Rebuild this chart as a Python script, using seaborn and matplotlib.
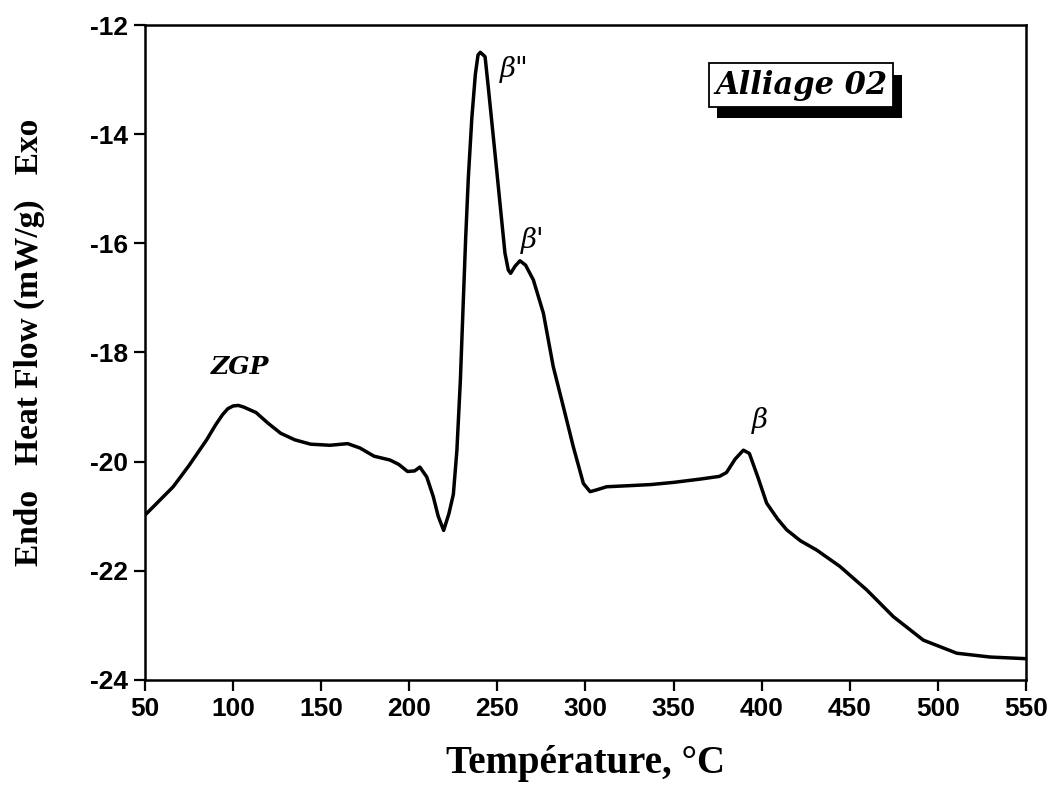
import numpy as np
import pandas as pd
import matplotlib
matplotlib.use("Agg")
import matplotlib.pyplot as plt
import matplotlib.patheffects as pe
import seaborn as sns

temperature = [50, 58, 66, 75, 85, 90, 94, 97, 100, 103, 106, 113, 120, 127, 135, 144, 155, 165,
               172, 180, 189, 194, 199, 203, 206, 209.9, 213.6, 216.4, 219.5, 222.5,
               225, 227, 229, 230.6, 232, 233.5, 235.5, 237.5, 239, 240.3, 243, 244.8,
               249.6, 252.4, 254.3, 256.2, 257.5, 260, 262.8, 266, 270.4, 276.1, 281.7,
               287.4, 293.1, 298.8, 302.6, 306, 312, 325, 337, 350, 365, 376, 380, 385,
               389.6, 393, 398, 402.8, 409, 414.2, 422, 431.2, 444.4, 459.6, 474.7,
               491.7, 510.7, 529.6, 550]
heat_flow = [-20.98, -20.72, -20.46, -20.07, -19.6, -19.33, -19.14, -19.03, -18.98, -18.97,
             -19.0, -19.1, -19.3, -19.48, -19.6, -19.68, -19.7, -19.67, -19.75, -19.9,
             -19.97, -20.05, -20.18, -20.17, -20.1, -20.28, -20.64, -21.0, -21.26, -20.95,
             -20.6, -19.8, -18.5, -17.1, -15.9, -14.8, -13.7, -12.9, -12.55, -12.5, -12.58,
             -13.13, -14.66, -15.57, -16.18, -16.49, -16.55, -16.42, -16.32, -16.4, -16.67,
             -17.28, -18.26, -18.99, -19.73, -20.4, -20.55, -20.52, -20.46, -20.44, -20.42,
             -20.38, -20.32, -20.27, -20.2, -19.95, -19.79, -19.85, -20.3, -20.76, -21.05,
             -21.25, -21.45, -21.62, -21.92, -22.35, -22.84, -23.27, -23.51, -23.58, -23.61]

x_ticks = [50, 100, 150, 200, 250, 300, 350, 400, 450, 500, 550]
y_ticks = [-24, -22, -20, -18, -16, -14, -12]

peak_labels = ["ZGP", "\u03b2\"", "\u03b2'", "\u03b2"]
peak_x = [103.9, 251.5, 270.2, 399.0]
peak_y = [-18.27, -12.82, -15.94, -19.24]

sns.set_theme(style="white")
plt.rcParams['font.family'] = ['Liberation Sans', 'DejaVu Sans']
plt.rcParams['text.color'] = 'black'
plt.rcParams['axes.labelcolor'] = 'black'
plt.rcParams['xtick.color'] = 'black'
plt.rcParams['ytick.color'] = 'black'

df = pd.DataFrame({"T": temperature, "HF": heat_flow})

fig = plt.figure(figsize=(10.56, 7.89), dpi=100)
ax = fig.add_axes([0.1373, 0.1382, 0.9716 - 0.1373, 0.9683 - 0.1382])
sns.lineplot(data=df, x="T", y="HF", ax=ax, color="black", linewidth=2.5, sort=False)

ax.set_xlim(50, 550)
ax.set_ylim(-24, -12)
ax.set_xticks(x_ticks)
ax.set_yticks(y_ticks)
ax.set_xticklabels([str(v) for v in x_ticks], fontsize=19, fontweight="bold")
ax.set_yticklabels([str(v) for v in y_ticks], fontsize=19, fontweight="bold")
ax.tick_params(axis="both", direction="out", length=8, width=1.6, color="black",
               labelcolor="black", bottom=True, left=True, pad=4)
for s in ax.spines.values():
    s.set_visible(True)
    s.set_color("black")
    s.set_linewidth(1.8)

ax.set_xlabel("Température, °C", fontsize=28, fontweight="bold", color="black",
              family=["Liberation Serif", "DejaVu Serif"])
ax.xaxis.set_label_coords(0.5, -0.1)
ax.set_ylabel("Endo   Heat Flow (mW/g)   Exo", fontsize=24, fontweight="bold",
              color="black", family=["Liberation Serif", "DejaVu Serif"])
ax.yaxis.set_label_coords(-0.113, 0.515)

# peak annotations
ax.text(peak_x[0], peak_y[0], peak_labels[0], fontsize=18, fontweight="bold",
        fontstyle="italic", family=["DejaVu Serif"], ha="center", va="center", color="black")
ax.text(peak_x[1], peak_y[1], peak_labels[1], fontsize=20, fontstyle="italic",
        family=["DejaVu Serif"], ha="left", va="center", color="black")
ax.text(peak_x[2], peak_y[2], peak_labels[2], fontsize=20, fontstyle="italic",
        family=["DejaVu Serif"], ha="center", va="center", color="black")
ax.text(peak_x[3], peak_y[3], peak_labels[3], fontsize=20, fontstyle="italic",
        family=["DejaVu Serif"], ha="center", va="center", color="black")

t = ax.text(422.3, -13.1, "Alliage 02", fontsize=22, fontweight="bold",
            fontstyle="italic", family=["DejaVu Serif"], ha="center", va="center",
            color="black",
            bbox=dict(boxstyle="square,pad=0.2", fc="white", ec="black", lw=1.3))
t.get_bbox_patch().set_path_effects([
    pe.SimplePatchShadow(offset=(6, -8), shadow_rgbFace="black", alpha=1.0),
    pe.Normal()])

fig.savefig("out.png", dpi=100)
